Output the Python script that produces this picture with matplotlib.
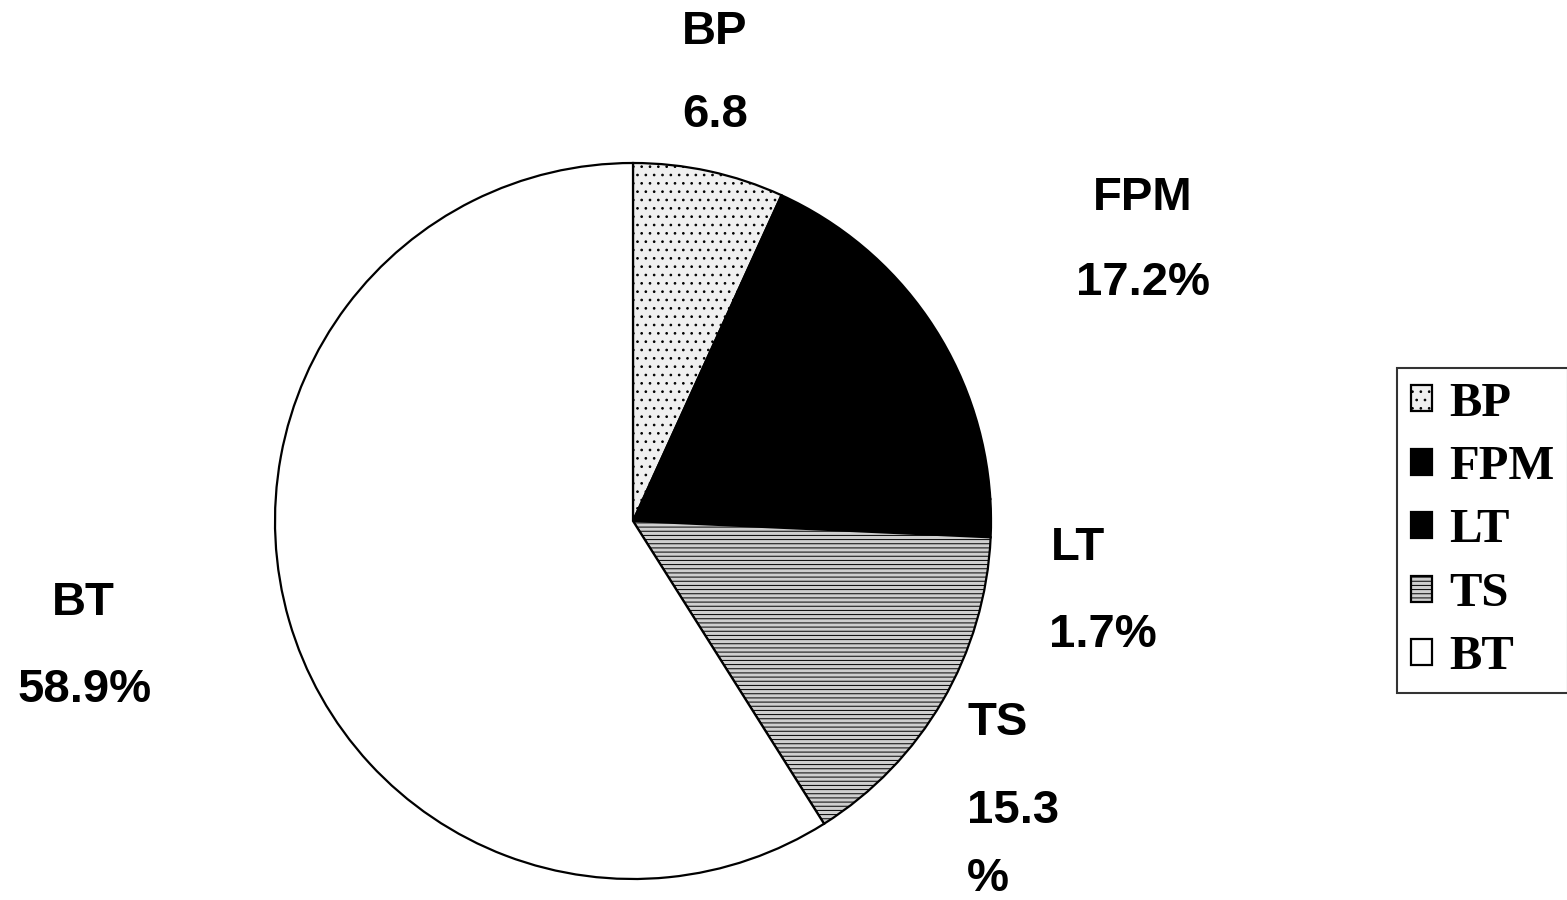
import numpy as np
import matplotlib.pyplot as plt

# slice data, clockwise from 12 o'clock
labels = ["BP", "FPM", "LT", "TS", "BT"]
values = [6.8, 17.2, 1.7, 15.3, 58.9]
value_text = ["6.8", "17.2%", "1.7%", "15.3\n%", "58.9%"]
colors = ["#f0f0f0", "black", "black", "#cfcfcf", "white"]
hatches = ["..", None, None, "----", None]

W, H = 1567, 900
cx, cy, R = 633, 521, 358   # pie center / radius in pixels

plt.rcParams["hatch.color"] = "#a8a8a8"
plt.rcParams["hatch.linewidth"] = 0.7

fig = plt.figure(figsize=(W / 100, H / 100), dpi=100)
ax = fig.add_axes([0, 0, 1, 1])

wedges, _ = ax.pie(values, colors=colors, startangle=90, counterclock=False,
                   radius=1, wedgeprops=dict(edgecolor="black", linewidth=1.6))
for w, h in zip(wedges, hatches):
    if h:
        w.set_hatch(h)

ax.set_xlim(-cx / R, (W - cx) / R)
ax.set_ylim(-(H - cy) / R, cy / R)
ax.set_aspect("equal")
ax.axis("off")


def px(x, y):
    return (x - cx) / R, (cy - y) / R


# label name / value positions (pixels, centre of text)
name_pos = [(715, 32), (1143, 198), (1078, 548), (998, 723), (83, 603)]
val_pos = [(715, 115), (1143, 283), (1103, 635), (1013, 845), (85, 690)]

font = dict(family="Liberation Sans", weight="bold", fontsize=34)
for name, val, npos, vpos in zip(labels, value_text, name_pos, val_pos):
    ax.text(*px(*npos), name, ha="center", va="center", **font)
    ax.text(*px(*vpos), val, ha="center", va="center", linespacing=1.7,
            multialignment="left", **font)

leg = fig.legend(wedges, labels, loc="upper left",
                 bbox_to_anchor=(1397 / W, 1 - 368 / H),
                 prop=dict(family="Liberation Serif", weight="bold", size=35),
                 frameon=True, fancybox=False, handlelength=0.45, handleheight=0.45,
                 handletextpad=0.35, labelspacing=0.4, borderpad=0.28,
                 borderaxespad=0)
leg.get_frame().set_edgecolor("black")
leg.get_frame().set_linewidth(1.5)

fig.savefig("out.png", dpi=100)
